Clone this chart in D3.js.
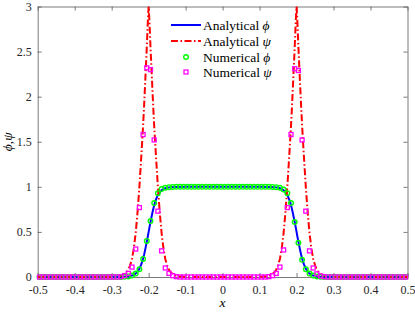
<!DOCTYPE html>
<html>
<head>
<meta charset="utf-8">
<script src="https://cdn.jsdelivr.net/npm/d3@7"></script>
<style>
  body { margin: 0; background: #fff; }
  svg { display: block; }
</style>
</head>
<body>
<script>
// cell-centred numerical grid
const numX = [
  -0.495, -0.485, -0.475, -0.465, -0.455, -0.445, -0.435, -0.425, -0.415, -0.405,
  -0.395, -0.385, -0.375, -0.365, -0.355, -0.345, -0.335, -0.325, -0.315, -0.305,
  -0.295, -0.285, -0.275, -0.265, -0.255, -0.245, -0.235, -0.225, -0.215, -0.205,
  -0.195, -0.185, -0.175, -0.165, -0.155, -0.145, -0.135, -0.125, -0.115, -0.105,
  -0.095, -0.085, -0.075, -0.065, -0.055, -0.045, -0.035, -0.025, -0.015, -0.005,
  0.005, 0.015, 0.025, 0.035, 0.045, 0.055, 0.065, 0.075, 0.085, 0.095,
  0.105, 0.115, 0.125, 0.135, 0.145, 0.155, 0.165, 0.175, 0.185, 0.195,
  0.205, 0.215, 0.225, 0.235, 0.245, 0.255, 0.265, 0.275, 0.285, 0.295,
  0.305, 0.315, 0.325, 0.335, 0.345, 0.355, 0.365, 0.375, 0.385, 0.395,
  0.405, 0.415, 0.425, 0.435, 0.445, 0.455, 0.465, 0.475, 0.485, 0.495
];
const numPhi = [
  0, 0, 0, 0, 0, 0, 0, 0, 0, 0,
  0, 0, 0, 0, 0, 0, 0, 0, 0, 0,
  0, 0, 0, 0.002, 0.006, 0.016, 0.038, 0.085, 0.2, 0.4,
  0.62, 0.82, 0.93, 0.975, 0.99, 0.996, 0.999, 1, 1, 1,
  1, 1, 1, 1, 1, 1, 1, 1, 1, 1,
  1, 1, 1, 1, 1, 1, 1, 1, 1, 1,
  1, 1, 1, 0.999, 0.996, 0.99, 0.97, 0.93, 0.82, 0.61,
  0.38, 0.19, 0.085, 0.038, 0.016, 0.006, 0.002, 0, 0, 0,
  0, 0, 0, 0, 0, 0, 0, 0, 0, 0,
  0, 0, 0, 0, 0, 0, 0, 0, 0, 0
];
const numPsi = [
  0, 0, 0, 0, 0, 0, 0, 0, 0, 0,
  0, 0, 0, 0, 0, 0, 0, 0, 0, 0,
  0, 0, 0.004, 0.015, 0.04, 0.11, 0.31, 0.77, 1.58, 2.32,
  2.3, 1.52, 0.73, 0.29, 0.1, 0.04, 0.015, 0.004, 0, 0,
  0, 0, 0, 0, 0, 0, 0, 0, 0, 0,
  0, 0, 0, 0, 0, 0, 0, 0, 0, 0,
  0, 0, 0.004, 0.015, 0.04, 0.11, 0.3, 0.77, 1.58, 2.31,
  2.29, 1.52, 0.73, 0.29, 0.1, 0.035, 0.012, 0.004, 0, 0,
  0, 0, 0, 0, 0, 0, 0, 0, 0, 0,
  0, 0, 0, 0, 0, 0, 0, 0, 0, 0
];

// analytical curves (finer near the two interfaces)
const anaX = [
  -0.5,
  -0.3, -0.28, -0.27, -0.26, -0.255, -0.25, -0.245, -0.24, -0.235, -0.23,
  -0.225, -0.22, -0.2175, -0.215, -0.2125, -0.21, -0.2075, -0.205, -0.202, -0.2,
  -0.198, -0.195, -0.1925, -0.19, -0.1875, -0.185, -0.1825, -0.18, -0.175, -0.17,
  -0.165, -0.16, -0.155, -0.15, -0.145, -0.14, -0.13, -0.12, -0.1,
  0.1, 0.12, 0.13, 0.14, 0.145, 0.15, 0.155, 0.16, 0.165, 0.17,
  0.175, 0.18, 0.1825, 0.185, 0.1875, 0.19, 0.1925, 0.195, 0.198, 0.2,
  0.202, 0.205, 0.2075, 0.21, 0.2125, 0.215, 0.2175, 0.22, 0.225, 0.23,
  0.235, 0.24, 0.245, 0.25, 0.255, 0.26, 0.27, 0.28, 0.3,
  0.5
];
const anaPhi = [
  0,
  0, 0.0008, 0.0015, 0.004, 0.006, 0.01, 0.016, 0.024, 0.038, 0.06,
  0.09, 0.14, 0.17, 0.205, 0.245, 0.29, 0.34, 0.39, 0.455, 0.5,
  0.545, 0.61, 0.66, 0.71, 0.755, 0.795, 0.83, 0.86, 0.91, 0.94,
  0.962, 0.976, 0.984, 0.99, 0.994, 0.996, 0.9985, 0.9992, 1,
  1, 0.9992, 0.9985, 0.996, 0.994, 0.99, 0.984, 0.976, 0.962, 0.94,
  0.91, 0.86, 0.83, 0.795, 0.755, 0.71, 0.66, 0.61, 0.545, 0.5,
  0.455, 0.39, 0.34, 0.29, 0.245, 0.205, 0.17, 0.14, 0.09, 0.06,
  0.038, 0.024, 0.016, 0.01, 0.006, 0.004, 0.0015, 0.0008, 0,
  0
];
const anaPsi = [
  0,
  0, 0.008, 0.02, 0.05, 0.08, 0.13, 0.2, 0.32, 0.49, 0.72,
  1.0, 1.33, 1.5, 1.68, 1.88, 2.1, 2.32, 2.55, 2.85, 3.0,
  2.85, 2.55, 2.32, 2.1, 1.88, 1.68, 1.5, 1.33, 1.0, 0.72,
  0.49, 0.32, 0.2, 0.13, 0.08, 0.05, 0.02, 0.008, 0,
  0, 0.008, 0.02, 0.05, 0.08, 0.13, 0.2, 0.32, 0.49, 0.72,
  1.0, 1.33, 1.5, 1.68, 1.88, 2.1, 2.32, 2.55, 2.85, 3.0,
  2.85, 2.55, 2.32, 2.1, 1.88, 1.68, 1.5, 1.33, 1.0, 0.72,
  0.49, 0.32, 0.2, 0.13, 0.08, 0.05, 0.02, 0.008, 0,
  0
];

const xTickVals = [-0.5, -0.4, -0.3, -0.2, -0.1, 0, 0.1, 0.2, 0.3, 0.4, 0.5];
const yTickVals = [0, 0.5, 1, 1.5, 2, 2.5, 3];
const legendNames = ["Analytical ", "Analytical ", "Numerical ", "Numerical "];
const legendSymbols = ["\u03D5", "\u03C8", "\u03D5", "\u03C8"];

const width = 415, height = 312;
const margin = { top: 6.5, right: 7.5, bottom: 35, left: 37.7 };
const font = "Times New Roman, Tinos, Liberation Serif, DejaVu Serif, serif";
const axisColor = "#595959";

const svg = d3.select("body").append("svg")
  .attr("width", width)
  .attr("height", height)
  .style("font-family", font);

const x = d3.scaleLinear().domain([-0.5, 0.5]).range([margin.left, width - margin.right]);
const y = d3.scaleLinear().domain([0, 3]).range([height - margin.bottom, margin.top]);

// axes with inward ticks, boxed like matlab
const fmt = d => d === 0 ? "0" : String(d);

const xAxis = svg.append("g")
  .attr("transform", `translate(0,${y(0)})`)
  .call(d3.axisBottom(x).tickValues(xTickVals).tickSizeInner(-4).tickSizeOuter(0).tickPadding(8).tickFormat(fmt));
const xTop = svg.append("g")
  .attr("transform", `translate(0,${y(3)})`)
  .call(d3.axisTop(x).tickValues(xTickVals).tickSizeInner(-4).tickSizeOuter(0).tickFormat(""));
const yAxis = svg.append("g")
  .attr("transform", `translate(${x(-0.5)},0)`)
  .call(d3.axisLeft(y).tickValues(yTickVals).tickSizeInner(-4).tickSizeOuter(0).tickPadding(6).tickFormat(fmt));
const yRight = svg.append("g")
  .attr("transform", `translate(${x(0.5)},0)`)
  .call(d3.axisRight(y).tickValues(yTickVals).tickSizeInner(-4).tickSizeOuter(0).tickFormat(""));

[xAxis, xTop, yAxis, yRight].forEach(g => {
  g.attr("font-family", null).attr("font-size", null);
  g.select(".domain").attr("stroke", axisColor).attr("stroke-width", 0.8);
  g.selectAll(".tick line").attr("stroke", axisColor).attr("stroke-width", 0.8);
  g.selectAll("text")
    .attr("fill", "#262626")
    .style("font-family", font)
    .style("font-size", "12px");
});

// analytical lines
const line = (xs, ys) => d3.line()
  .x((d, i) => x(xs[i]))
  .y((d, i) => y(ys[i]))(ys);

svg.append("path")
  .attr("d", line(anaX, anaPhi))
  .attr("fill", "none")
  .attr("stroke", "#0000ff")
  .attr("stroke-width", 2);

svg.append("path")
  .attr("d", line(anaX, anaPsi))
  .attr("fill", "none")
  .attr("stroke", "#ff0000")
  .attr("stroke-width", 2)
  .attr("stroke-dasharray", "7,2.5,1.5,2.5");

// numerical markers
svg.append("g")
  .selectAll("circle")
  .data(numPhi)
  .join("circle")
  .attr("cx", (d, i) => x(numX[i]))
  .attr("cy", d => y(d))
  .attr("r", 2.3)
  .attr("fill", "none")
  .attr("stroke", "#00ff00")
  .attr("stroke-width", 1.4);

svg.append("g")
  .selectAll("rect")
  .data(numPsi)
  .join("rect")
  .attr("x", (d, i) => x(numX[i]) - 2)
  .attr("y", d => y(d) - 2)
  .attr("width", 4)
  .attr("height", 4)
  .attr("fill", "none")
  .attr("stroke", "#ff00ff")
  .attr("stroke-width", 1.3);

// legend
const legend = svg.append("g");
const rowY = [25, 41, 57, 72];
legendNames.forEach((name, i) => {
  const ly = rowY[i];
  if (i === 0) {
    legend.append("line").attr("x1", 171).attr("x2", 201).attr("y1", ly).attr("y2", ly)
      .attr("stroke", "#0000ff").attr("stroke-width", 2);
  } else if (i === 1) {
    legend.append("line").attr("x1", 171).attr("x2", 201).attr("y1", ly).attr("y2", ly)
      .attr("stroke", "#ff0000").attr("stroke-width", 2).attr("stroke-dasharray", "7,2.5,1.5,2.5");
  } else if (i === 2) {
    legend.append("circle").attr("cx", 186).attr("cy", ly).attr("r", 2.3)
      .attr("fill", "none").attr("stroke", "#00ff00").attr("stroke-width", 1.4);
  } else {
    legend.append("rect").attr("x", 184).attr("y", ly - 2).attr("width", 4).attr("height", 4)
      .attr("fill", "none").attr("stroke", "#ff00ff").attr("stroke-width", 1.3);
  }
  const t = legend.append("text")
    .attr("x", 203)
    .attr("y", ly + 4.5)
    .attr("fill", "#000")
    .style("font-size", "13.5px");
  t.append("tspan").text(name);
  t.append("tspan").attr("font-style", "italic").text(legendSymbols[i]);
});

// axis labels
svg.append("text")
  .attr("x", x(0))
  .attr("y", 307)
  .attr("text-anchor", "middle")
  .attr("font-style", "italic")
  .style("font-size", "13.5px")
  .text("x");

const yl = svg.append("text")
  .attr("transform", `translate(12,${y(1.5)}) rotate(-90)`)
  .attr("text-anchor", "middle")
  .style("font-size", "13.5px");
yl.append("tspan").attr("font-style", "italic").text("\u03D5");
yl.append("tspan").text(",");
yl.append("tspan").attr("font-style", "italic").text("\u03C8");
</script>
</body>
</html>
